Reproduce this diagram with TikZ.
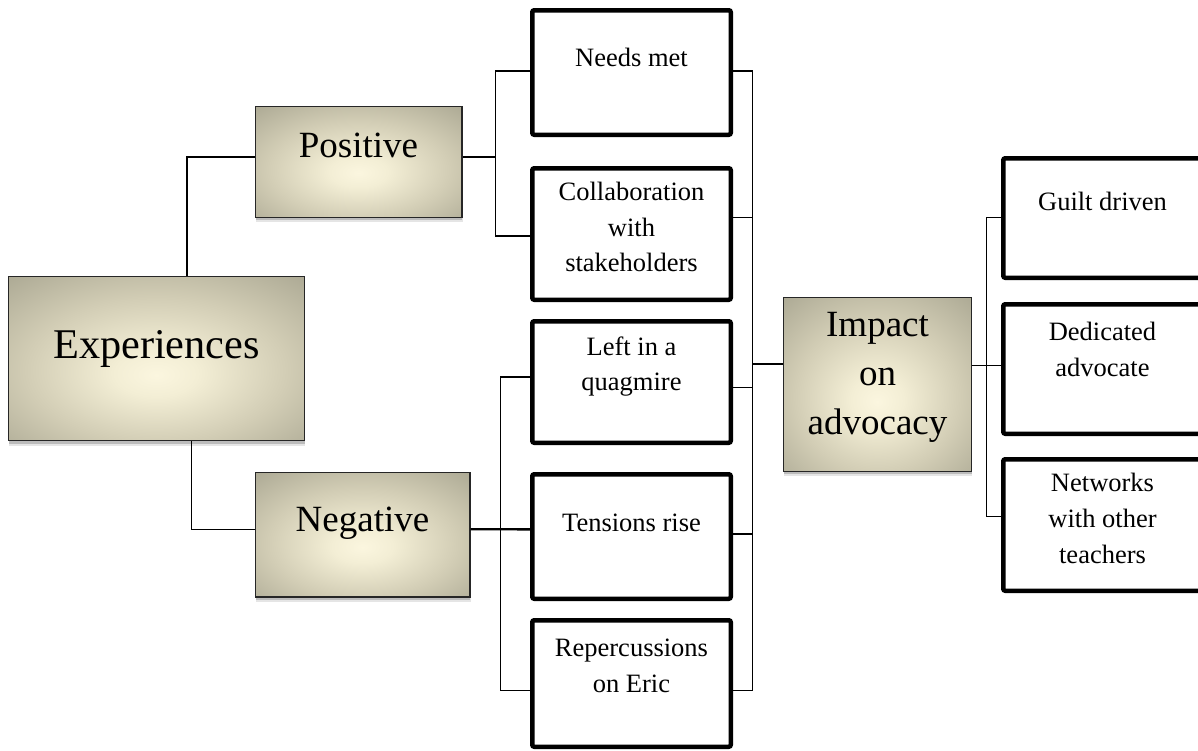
\documentclass[tikz,border=0pt]{standalone}
\usepackage{fontspec}
\setmainfont{Liberation Serif}
\usetikzlibrary{shadows}
\definecolor{cin}{HTML}{FBF6DF}
\definecolor{cin2}{HTML}{F3EED5}
\definecolor{cmid}{HTML}{D2CDB5}
\definecolor{cmid2}{HTML}{ABA893}
\definecolor{cedge}{HTML}{979482}
\definecolor{cout}{HTML}{868372}
\pgfdeclareradialshading{boxshade}{\pgfpoint{0bp}{-5bp}}{color(0bp)=(cin); color(7bp)=(cin2); color(22bp)=(cmid); color(38bp)=(cmid2); color(50bp)=(cedge); color(72bp)=(cout)}
\tikzset{
  gbox/.style={draw=black!85, line width=1.4pt, inner sep=0pt, shading=boxshade,
    drop shadow={shadow xshift=0.8pt, shadow yshift=-5pt, fill=black, opacity=0.10},
    drop shadow={shadow xshift=0.5pt, shadow yshift=-3pt, fill=black, opacity=0.18}},
  wbox/.style={draw=black, line width=4.5pt, rounded corners=2pt, fill=white, inner sep=0pt, minimum width=198.5pt},
  stxt/.style={font=\fontsize{26.5}{35.8}\selectfont, align=center, inner sep=0pt,
    execute at begin node=\strut, execute at end node=\strut},
  btxt/.style={font=\fontsize{37}{49}\selectfont, align=center, inner sep=0pt,
    execute at begin node=\strut, execute at end node=\strut},
  etxt/.style={font=\fontsize{42.3}{55}\selectfont, align=center, inner sep=0pt,
    execute at begin node=\strut, execute at end node=\strut},
  conn/.style={draw=black, line width=1.3pt},
  connb/.style={draw=black, line width=2.4pt}
}
\begin{document}
\begin{tikzpicture}[x=1pt,y=-1pt]
\useasboundingbox (0,0) rectangle (1198,750);
\clip (0,0) rectangle (1198,750);
% gray boxes
\node[gbox, minimum width=296pt, minimum height=164pt] (exp) at (156.25,358.75) {};
\node[gbox, minimum width=206.6pt, minimum height=110.6pt] (pos) at (358.5,162) {};
\node[gbox, minimum width=214.6pt, minimum height=124.1pt] (neg) at (362.5,534.75) {};
\node[gbox, minimum width=187.9pt, minimum height=173.6pt] (imp) at (877.35,384.5) {};
% white boxes
\node[wbox, minimum height=124.5pt] (needs) at (631.5,72.5) {};
\node[wbox, minimum height=131.5pt] (collab) at (631.5,234) {};
\node[wbox, minimum height=121.5pt] (quag) at (631.5,382) {};
\node[wbox, minimum height=124.5pt] (tens) at (631.5,536.5) {};
\node[wbox, minimum height=126.5pt] (rep) at (631.5,683.5) {};
\node[wbox, minimum height=119.5pt] (guilt) at (1102.5,218) {};
\node[wbox, minimum height=129.5pt] (dedic) at (1102.5,369) {};
\node[wbox, minimum height=131.5pt] (netw) at (1102.5,525) {};
% texts
\node[etxt] (expT) at (156.5,347.3) {Experiences};
\node[btxt] (posT) at (358.5,147.5) {Positive};
\node[btxt] (negT) at (362.5,521.2) {Negative};
\node[btxt] (impT) at (877.5,381) {Impact\\on\\advocacy};
\node[stxt] (needsT) at (631.5,59.8) {Needs met};
\node[stxt] (collabT) at (631.5,232.3) {Collaboration\\with\\stakeholders};
\node[stxt] (quagT) at (631.5,369.1) {Left in a\\quagmire};
\node[stxt] (tensT) at (631.5,524.5) {Tensions rise};
\node[stxt] (repT) at (631.5,671.2) {Repercussions\\on Eric};
\node[stxt] (guiltT) at (1102.5,203.8) {Guilt driven};
\node[stxt] (dedicT) at (1102.5,354.8) {Dedicated\\advocate};
\node[stxt] (netwT) at (1102.5,523.7) {Networks\\with other\\teachers};
% bus coordinates
\coordinate (busP) at (495.7,157);
\coordinate (busN) at (500.7,529.3);
\coordinate (busR) at (752.3,364);
\coordinate (busI) at (986.7,365.7);
% connectors
\draw[conn] ([xshift=30.75pt]exp.north) |- ([yshift=5pt]pos.west);
\draw[conn] ([xshift=35.5pt]exp.south) |- ([yshift=5.5pt]neg.west);
\draw[conn] ([yshift=5pt]pos.east) -- (busP);
\draw[conn] ([yshift=1.5pt]needs.west) -| (busP) |- ([yshift=-2pt]collab.west);
\draw[connb] ([yshift=5.5pt]neg.east) -- ([yshift=7.2pt]tens.west);
\draw[conn] ([yshift=5pt]quag.west) -| (busN) |- ([yshift=-7.2pt]rep.west);
\draw[conn] ([yshift=1.5pt]needs.east) -| (busR);
\draw[conn] ([yshift=16.7pt]collab.east) -| (busR);
\draw[conn] ([yshift=-5.3pt]quag.east) -| (busR);
\draw[conn] ([yshift=2.5pt]tens.east) -| (busR);
\draw[conn] ([yshift=-7.2pt]rep.east) -| (busR);
\draw[connb] (busR) -- ([yshift=20.5pt]imp.west);
\draw[conn] ([yshift=18.8pt]imp.east) -- (busI);
\draw[conn] ([yshift=0.3pt]guilt.west) -| (busI);
\draw[conn] ([yshift=3.3pt]dedic.west) -- (busI);
\draw[conn] ([yshift=8.3pt]netw.west) -| (busI);
\end{tikzpicture}
\end{document}
